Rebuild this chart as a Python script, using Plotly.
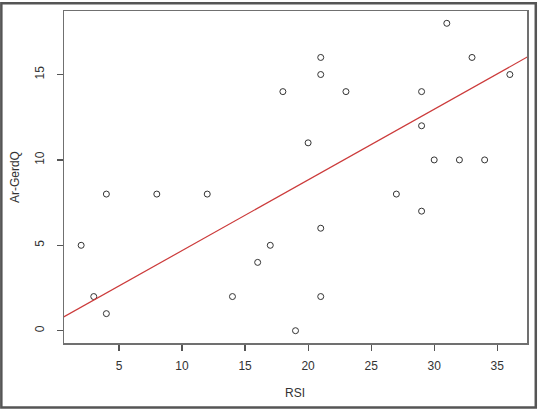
import plotly.graph_objects as go
import numpy as np

# Data
rsi = [2, 3, 4, 4, 8, 12, 14, 16, 17, 18, 19, 20, 21, 21, 21, 21, 23, 27, 29, 29, 29, 30, 31, 32, 33, 34, 36]
argerdq = [5, 2, 8, 1, 8, 8, 2, 4, 5, 14, 0, 11, 16, 15, 6, 2, 14, 8, 14, 12, 7, 10, 18, 10, 16, 10, 15]

# Fitted line (as drawn in the reference)
line_intercept = 0.55
line_slope = 0.414

x_ticks = [5, 10, 15, 20, 25, 30, 35]
y_ticks = [0, 5, 10, 15]

W, H = 538, 409
ml, mr, mt, mb = 64, 10, 9, 66
pw, ph = W - ml - mr, H - mt - mb

x_min, x_max = min(rsi), max(rsi)
y_min, y_max = min(argerdq), max(argerdq)
xr = [x_min - 0.04 * (x_max - x_min), x_max + 0.04 * (x_max - x_min)]
yr = [y_min - 0.04 * (y_max - y_min), y_max + 0.04 * (y_max - y_min)]

lx = np.array([xr[0] - 1, xr[1] + 1])
ly = line_intercept + line_slope * lx

font = dict(family="Liberation Sans, Arial, sans-serif", size=12, color="#333333")

fig = go.Figure()
fig.add_trace(go.Scatter(
    x=rsi, y=argerdq, mode="markers",
    marker=dict(symbol="circle-open", size=6, color="#333333", line=dict(width=1, color="#333333")),
    showlegend=False, hoverinfo="skip",
))
fig.add_trace(go.Scatter(
    x=lx.tolist(), y=ly.tolist(), mode="lines",
    line=dict(color="#cc3b3b", width=1.2),
    showlegend=False, hoverinfo="skip",
))

fig.update_layout(
    width=W, height=H,
    margin=dict(l=ml, r=mr, t=mt, b=mb, pad=0),
    paper_bgcolor="white", plot_bgcolor="white",
    font=font,
    xaxis=dict(range=xr, tickvals=x_ticks, ticktext=[str(v) for v in x_ticks],
               showgrid=False, zeroline=False, showline=True, mirror=True,
               linecolor="#707070", linewidth=1.5, ticks="outside", ticklen=6,
               tickcolor="#555555", tickwidth=1.2, tickfont=font, ticklabelstandoff=5),
    yaxis=dict(range=yr, tickvals=y_ticks, ticktext=[str(v) for v in y_ticks],
               showgrid=False, zeroline=False, showline=True, mirror=True,
               linecolor="#707070", linewidth=1.5, ticks="outside", ticklen=6,
               tickcolor="#555555", tickwidth=1.2, tickangle=-90, tickfont=font,
               ticklabelstandoff=8),
    annotations=[
        dict(text="RSI", xref="paper", yref="paper", x=(295.8 - ml) / pw, y=(H - mb - 393) / ph,
             xanchor="center", yanchor="middle", showarrow=False, font=font),
        dict(text="Ar-GerdQ", xref="paper", yref="paper", x=(15 - ml) / pw, y=0.5,
             xanchor="center", yanchor="middle", textangle=-90, showarrow=False, font=font),
    ],
    shapes=[
        dict(type="rect", xref="paper", yref="paper",
             x0=(1.2 - ml) / pw, x1=(W - 1.2 - ml) / pw,
             y0=-(mb - 1.2) / ph, y1=(ph + mt - 1.2) / ph,
             line=dict(color="#555555", width=2.5), fillcolor="rgba(0,0,0,0)", layer="above"),
    ],
)

fig.write_html(
    "out.html",
    config={"displayModeBar": False, "staticPlot": True},
    post_script="document.body.style.margin='0';document.body.style.overflow='hidden';",
)
